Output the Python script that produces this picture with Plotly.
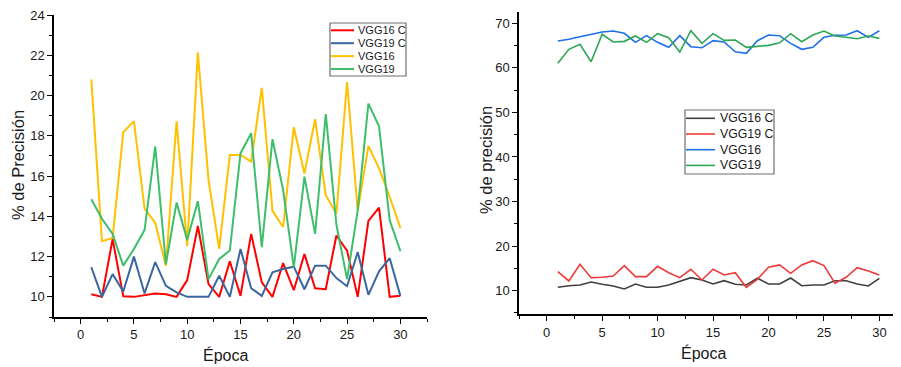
import plotly.graph_objects as go

epochs = list(range(1, 31))

# Left chart (% de Precisión)
left_vgg16c = [10.13, 10.0, 12.87, 10.03, 10.0, 10.07, 10.17, 10.13, 10.0, 10.83,
               13.52, 10.63, 10.0, 11.77, 10.05, 13.13, 10.72, 10.0, 11.68, 10.33,
               12.13, 10.43, 10.38, 13.05, 12.3, 10.0, 13.77, 14.43, 10.0, 10.05]
left_vgg19c = [11.47, 10.0, 11.13, 10.27, 12.0, 10.17, 11.73, 10.55, 10.22, 10.0,
               10.0, 10.0, 11.05, 10.0, 12.38, 10.43, 10.05, 11.22, 11.38, 11.5,
               10.38, 11.55, 11.55, 10.93, 10.53, 12.22, 10.1, 11.27, 11.92, 10.05]
left_vgg16 = [20.8, 12.77, 12.93, 18.18, 18.73, 14.38, 13.67, 11.55, 18.72, 12.52,
              22.13, 15.8, 12.38, 17.05, 17.05, 16.72, 20.38, 14.27, 13.47, 18.42,
              16.13, 18.83, 15.05, 14.13, 20.67, 14.27, 17.5, 16.38, 14.97, 13.42]
left_vgg19 = [14.85, 13.88, 13.13, 11.55, 12.38, 13.33, 17.47, 11.63, 14.68, 12.83,
              14.75, 10.88, 11.88, 12.3, 17.13, 18.13, 12.47, 17.83, 15.3, 11.47,
              15.97, 13.13, 19.08, 13.58, 10.88, 14.3, 19.6, 18.47, 13.8, 12.27]

# Right chart (% de precisión)
right_vgg16c = [10.76, 11.12, 11.28, 11.95, 11.43, 11.05, 10.38, 11.5, 10.76, 10.76,
                11.28, 12.18, 12.92, 12.4, 11.5, 12.24, 11.43, 11.28, 12.78, 11.5,
                11.5, 12.85, 11.12, 11.28, 11.28, 12.24, 12.24, 11.5, 11.05, 12.78]
right_vgg19c = [14.26, 12.18, 15.92, 12.92, 13.0, 13.3, 15.62, 13.15, 13.15, 15.47,
                14.04, 12.92, 14.8, 12.4, 14.8, 13.52, 14.04, 10.76, 12.55, 15.25,
                15.77, 13.9, 15.77, 16.73, 15.62, 11.66, 13.0, 15.17, 14.42, 13.52]
right_vgg16 = [66.02, 66.4, 67.0, 67.6, 68.05, 68.27, 67.75, 65.73, 67.22, 65.73,
               64.6, 67.22, 64.75, 64.5, 66.1, 65.8, 63.6, 63.26, 66.1, 67.37,
               67.22, 65.5, 64.16, 64.6, 66.85, 67.3, 67.37, 68.33, 66.85, 68.33]
right_vgg19 = [61.02, 64.16, 65.28, 61.38, 67.53, 65.8, 65.95, 67.15, 65.73, 67.67,
               66.77, 63.55, 68.33, 65.5, 67.67, 66.17, 66.25, 64.6, 64.83, 65.05,
               65.63, 67.67, 65.87, 67.37, 68.27, 67.15, 66.85, 66.54, 67.15, 66.62]

left_names = ["VGG16 C", "VGG19 C", "VGG16", "VGG19"]
right_names = ["VGG16 C", "VGG19 C", "VGG16", "VGG19"]

left_colors = ["#FF0000", "#3A679F", "#FFC000", "#3DBE6C"]
right_colors = ["#404040", "#F03A3A", "#1F6FE6", "#2EA655"]

# page body has an 8px margin; figure sized so it ends at the window edge
OFF = 8
W, H = 893, 359
FONT = "Arial, Liberation Sans, sans-serif"
TXT = "#1a1a1a"

fig = go.Figure()
for name, ys, c in zip(left_names, [left_vgg16c, left_vgg19c, left_vgg16, left_vgg19], left_colors):
    fig.add_trace(go.Scatter(x=epochs, y=ys, mode="lines", name=name,
                             line=dict(color=c, width=2), xaxis="x", yaxis="y",
                             showlegend=False))
for name, ys, c in zip(right_names, [right_vgg16c, right_vgg19c, right_vgg16, right_vgg19], right_colors):
    fig.add_trace(go.Scatter(x=epochs, y=ys, mode="lines", name=name,
                             line=dict(color=c, width=1.6), xaxis="x2", yaxis="y2",
                             showlegend=False))

def px_x(p):
    return (p - OFF) / W

def px_y(p):
    return 1 - (p - OFF) / H

axis_common = dict(showline=True, linecolor="black", linewidth=1.5, showgrid=False,
                   zeroline=False, ticks="outside", ticklen=5, tickwidth=1.3,
                   tickcolor="black", automargin=False, ticklabeloverflow="allow",
                   tickfont=dict(family=FONT, size=13, color=TXT),
                   minor=dict(ticks="outside", ticklen=3, tickwidth=1.2, tickcolor="black"))

fig.update_layout(
    width=W, height=H,
    margin=dict(l=0, r=0, t=0, b=0, autoexpand=False),
    paper_bgcolor="white", plot_bgcolor="white",
    font=dict(family=FONT, color=TXT),
    xaxis=dict(domain=[px_x(54), px_x(427)], range=[-2.5, 32.5], dtick=5, tick0=0,
               anchor="y", **axis_common),
    yaxis=dict(domain=[px_y(317), px_y(15)], range=[9, 24], dtick=2, tick0=0,
               anchor="x", **axis_common),
    xaxis2=dict(domain=[px_x(519), 1.0], range=[-2.5, 31.95], dtick=5, tick0=0,
                anchor="y2", **axis_common),
    yaxis2=dict(domain=[px_y(314.3), px_y(11.7)], range=[4.7, 72.6], dtick=10, tick0=0,
                anchor="x2", **axis_common),
    showlegend=False,
)
fig.update_xaxes(minor_dtick=2.5)
fig.update_layout(xaxis_minor_tick0=0, xaxis2_minor_tick0=0,
                  yaxis_minor_dtick=1, yaxis_minor_tick0=0,
                  yaxis2_minor_dtick=5, yaxis2_minor_tick0=0)

# Legends (boxes with line samples and labels)
def add_legend(names, colors, box, row0, step, line_x, text_x, fsize, lw):
    x0, y0, x1, y1 = box
    fig.add_shape(type="rect", xref="paper", yref="paper",
                  x0=px_x(x0), x1=px_x(x1), y0=px_y(y1), y1=px_y(y0),
                  line=dict(color="#6e6e6e", width=1.2), fillcolor="white", layer="above")
    for i, (n, c) in enumerate(zip(names, colors)):
        yy = row0 + i * step
        fig.add_shape(type="line", xref="paper", yref="paper",
                      x0=px_x(line_x[0]), x1=px_x(line_x[1]), y0=px_y(yy), y1=px_y(yy),
                      line=dict(color=c, width=lw), layer="above")
        fig.add_annotation(text=n, x=px_x(text_x), y=px_y(yy), xref="paper", yref="paper",
                           xanchor="left", yanchor="middle", showarrow=False,
                           font=dict(family=FONT, size=fsize, color=TXT))

add_legend(left_names, left_colors, (330, 23, 406, 76), 30.3, 12.9, (331, 354), 356, 11, 2)
add_legend(right_names, right_colors, (685, 110, 774, 174), 118.3, 15.7, (686, 715), 717.5, 12.3, 1.6)

# Axis titles
def title(text, x, y, angle=0, size=16):
    fig.add_annotation(text=text, x=px_x(x), y=px_y(y), xref="paper", yref="paper",
                       xanchor="center", yanchor="middle", showarrow=False,
                       textangle=angle, font=dict(family=FONT, size=size, color=TXT))

title("Época", 225, 355)
title("Época", 703, 353)
title("% de Precisión", 18, 165, -90, 16.5)
title("% de precisión", 486, 160, -90, 16.5)

fig.write_html("out.html")
